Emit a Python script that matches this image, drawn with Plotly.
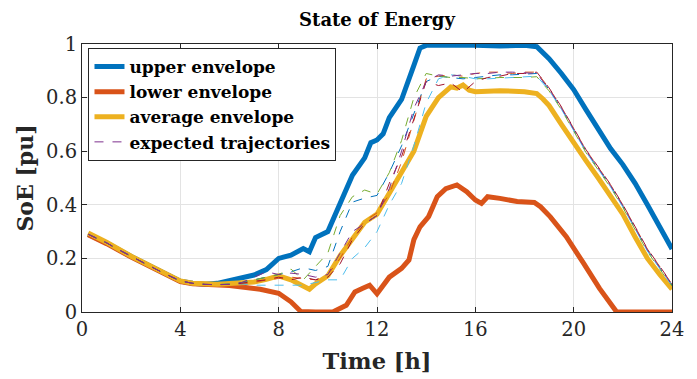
import plotly.graph_objects as go

# ---------------- data ----------------
upper_t = [0.25, 1, 2, 3, 3.5, 4, 4.5, 5, 5.5, 6, 6.5, 7, 7.5, 8, 8.5, 9, 9.25, 9.5, 10, 10.5,
           11, 11.5, 11.75, 12, 12.25, 12.5, 13, 13.5, 13.75, 14, 15, 16, 17, 18, 18.5,
           19, 19.5, 20, 20.5, 21, 21.5, 22, 22.5, 23, 23.5, 24]
upper_v = [0.29, 0.258, 0.207, 0.16, 0.137, 0.115, 0.107, 0.104, 0.107, 0.117, 0.126, 0.138, 0.158, 0.2, 0.212, 0.237, 0.225, 0.278, 0.3, 0.41,
           0.51, 0.575, 0.632, 0.642, 0.665, 0.725, 0.793, 0.92, 0.985, 0.995, 0.996, 0.995, 0.993, 0.995, 0.99,
           0.945, 0.89, 0.83, 0.755, 0.68, 0.61, 0.55, 0.48, 0.4, 0.32, 0.235]

lower_t = [0.25, 1, 2, 3, 3.5, 4, 4.5, 5, 5.5, 6, 7.25, 8, 8.5, 8.9, 9.5, 10.2, 10.75, 11.1, 11.4, 11.7, 12.0,
           12.5, 13.0, 13.3, 13.5, 13.75, 14.1, 14.45, 14.8, 15.25, 15.65, 16.0, 16.25, 16.5, 17.0, 17.7,
           18.4, 18.65, 19.05, 19.7, 20.4, 21.05, 21.75, 22.5, 23.5, 24]
lower_v = [0.288, 0.255, 0.205, 0.158, 0.136, 0.113, 0.105, 0.102, 0.1, 0.099, 0.085, 0.07, 0.038, 0.002, 0.0, 0.0, 0.025, 0.075, 0.088, 0.1, 0.068,
           0.13, 0.163, 0.194, 0.27, 0.318, 0.356, 0.43, 0.46, 0.474, 0.449, 0.418, 0.405, 0.43, 0.424, 0.412,
           0.409, 0.393, 0.355, 0.281, 0.182, 0.088, 0.0, 0.0, 0.0, 0.0]

avg_t = [0.25, 1, 2, 3, 3.5, 4, 4.5, 5, 5.5, 6, 6.5, 7, 7.5, 8, 8.5, 9, 9.25, 9.5, 9.75, 10, 10.5,
         11, 11.5, 12, 12.5, 13, 13.5, 14, 14.5, 15, 15.25, 15.5, 15.75, 16, 17, 18, 18.5,
         18.75, 19, 19.5, 20, 20.5, 21, 21.5, 22, 22.5, 23, 23.5, 24]
avg_v = [0.295, 0.26, 0.208, 0.16, 0.138, 0.116, 0.107, 0.104, 0.104, 0.106, 0.11, 0.112, 0.122, 0.135, 0.12, 0.1, 0.085, 0.105, 0.12, 0.135, 0.21,
         0.275, 0.335, 0.365, 0.445, 0.52, 0.6, 0.73, 0.8, 0.84, 0.835, 0.847, 0.828, 0.822, 0.826, 0.822, 0.815,
         0.795, 0.77, 0.7, 0.63, 0.565, 0.5, 0.435, 0.365, 0.28, 0.2, 0.14, 0.085]

traj_t = [0.25, 0.5, 1, 1.5, 2, 2.5, 3, 3.5, 4, 4.5, 5, 5.5, 6,
          6.5, 7, 7.5, 8, 8.5, 9, 9.5, 10, 10.5, 11, 11.5, 12, 12.5, 13, 13.5, 14, 14.5, 15, 15.5,
          16, 16.5, 17, 17.5, 18, 18.5, 19, 19.5, 20, 20.5, 21, 21.5, 22, 22.5, 23, 23.5, 24]

traj_blue = [0.29, 0.28, 0.258, 0.232, 0.207, 0.183, 0.16, 0.137, 0.116, 0.107, 0.103, 0.102, 0.104,
             0.11, 0.12, 0.13, 0.14, 0.15, 0.165, 0.155, 0.17, 0.3, 0.41, 0.425, 0.435, 0.52, 0.62, 0.74, 0.86, 0.88, 0.875, 0.87,
             0.875, 0.88, 0.885, 0.885, 0.888, 0.89, 0.83, 0.76, 0.68, 0.6, 0.535, 0.47, 0.395, 0.31, 0.23, 0.165, 0.1]
traj_orange = [0.29, 0.28, 0.258, 0.232, 0.207, 0.183, 0.16, 0.137, 0.116, 0.107, 0.103, 0.102, 0.103,
               0.105, 0.11, 0.12, 0.125, 0.13, 0.125, 0.12, 0.14, 0.2, 0.28, 0.34, 0.37, 0.44, 0.56, 0.72, 0.87, 0.88, 0.885, 0.88,
               0.89, 0.895, 0.895, 0.89, 0.895, 0.895, 0.835, 0.765, 0.685, 0.605, 0.54, 0.475, 0.4, 0.315, 0.235, 0.17, 0.104]
traj_purple = [0.29, 0.28, 0.258, 0.232, 0.207, 0.183, 0.16, 0.137, 0.116, 0.107, 0.103, 0.102, 0.103,
               0.11, 0.13, 0.15, 0.14, 0.145, 0.14, 0.13, 0.14, 0.22, 0.3, 0.33, 0.36, 0.46, 0.6, 0.76, 0.86, 0.885, 0.88, 0.885,
               0.89, 0.89, 0.895, 0.895, 0.892, 0.89, 0.832, 0.762, 0.682, 0.602, 0.537, 0.472, 0.397, 0.312, 0.232, 0.167, 0.102]
traj_green = [0.29, 0.28, 0.258, 0.232, 0.207, 0.183, 0.16, 0.137, 0.116, 0.107, 0.103, 0.102, 0.104,
              0.108, 0.12, 0.13, 0.14, 0.16, 0.12, 0.17, 0.22, 0.36, 0.43, 0.455, 0.44, 0.52, 0.64, 0.8, 0.89, 0.88, 0.875, 0.875,
              0.87, 0.872, 0.875, 0.875, 0.875, 0.878, 0.825, 0.755, 0.675, 0.595, 0.53, 0.465, 0.39, 0.305, 0.225, 0.16, 0.097]
traj_lightblue = [0.29, 0.28, 0.258, 0.232, 0.207, 0.183, 0.16, 0.137, 0.116, 0.107, 0.103, 0.102, 0.103,
                  0.105, 0.1, 0.1, 0.1, 0.1, 0.1, 0.11, 0.12, 0.12, 0.2, 0.24, 0.3, 0.4, 0.48, 0.62, 0.78, 0.87, 0.885, 0.88,
                  0.87, 0.87, 0.872, 0.875, 0.878, 0.88, 0.827, 0.757, 0.677, 0.597, 0.532, 0.467, 0.392, 0.307, 0.227, 0.162, 0.098]
traj_darkred = [0.29, 0.28, 0.258, 0.232, 0.207, 0.183, 0.16, 0.137, 0.116, 0.107, 0.103, 0.102, 0.103,
                0.107, 0.115, 0.12, 0.13, 0.12, 0.13, 0.12, 0.13, 0.18, 0.27, 0.33, 0.36, 0.48, 0.58, 0.72, 0.86, 0.845, 0.855, 0.82,
                0.86, 0.875, 0.88, 0.89, 0.89, 0.895, 0.836, 0.766, 0.686, 0.606, 0.541, 0.476, 0.401, 0.316, 0.236, 0.171, 0.105]

x_ticks = [0, 4, 8, 12, 16, 20, 24]
y_ticks = [0, 0.2, 0.4, 0.6, 0.8, 1]
y_tick_labels = ["0", "0.2", "0.4", "0.6", "0.8", "1"]

# ---------------- figure ----------------
TICKFONT = "DejaVu Serif, serif"
BOLDFONT = "DejaVu Serif, serif"
fig = go.Figure()

fig.add_trace(go.Scatter(x=upper_t, y=upper_v, mode="lines", name="<b>upper envelope</b>",
                         line=dict(color="#0072BD", width=5)))
fig.add_trace(go.Scatter(x=lower_t, y=lower_v, mode="lines", name="<b>lower envelope</b>",
                         line=dict(color="#D95319", width=5)))
fig.add_trace(go.Scatter(x=avg_t, y=avg_v, mode="lines", name="<b>average envelope</b>",
                         line=dict(color="#EDB120", width=5)))

trajs = [(traj_blue, "#0072BD"), (traj_orange, "#D95319"), (traj_green, "#77AC30"),
         (traj_lightblue, "#4DBEEE"), (traj_darkred, "#A2142F"), (traj_purple, "#7E2F8E")]
for vals, col in trajs:
    fig.add_trace(go.Scatter(x=traj_t, y=vals, mode="lines",
                             name="<b>expected trajectories</b>",
                             showlegend=(col == "#7E2F8E"),
                             line=dict(color=col, width=1, dash="dash")))

axis_common = dict(showgrid=True, gridcolor="#e3e3e3", gridwidth=1,
                   showline=True, linecolor="#262626", linewidth=1, mirror="allticks",
                   ticks="inside", ticklen=5, tickcolor="#262626", zeroline=False,
                   automargin=False,
                   tickfont=dict(family=TICKFONT, size=19.5, color="#262626"))

fig.update_layout(
    width=697, height=379,
    margin=dict(l=74, r=33, t=36, b=75, autoexpand=False),
    paper_bgcolor="white", plot_bgcolor="white",
    font=dict(family=BOLDFONT, color="#262626"),
    title=dict(text="<b>State of Energy</b>", x=0.5294, xanchor="center", y=0.968, yanchor="middle",
               automargin=False,
               font=dict(family=BOLDFONT, size=18, color="black")),
    xaxis=dict(range=[0, 24], tickvals=x_ticks,
               title=dict(text="<b>Time [h]</b>", font=dict(family=BOLDFONT, size=22.5, color="#262626"), standoff=12),
               **axis_common),
    yaxis=dict(range=[0, 1], tickvals=y_ticks, ticktext=y_tick_labels,
               title=dict(text="<b>SoE [pu]</b>", font=dict(family=BOLDFONT, size=22, color="#262626"), standoff=6),
               **axis_common),
    legend=dict(x=0.011, y=0.985, xanchor="left", yanchor="top",
                bgcolor="white", bordercolor="#262626", borderwidth=1,
                font=dict(family=BOLDFONT, size=17, color="black"),
                tracegroupgap=0, itemwidth=30),
    showlegend=True,
)

fig.write_html("out.html")
